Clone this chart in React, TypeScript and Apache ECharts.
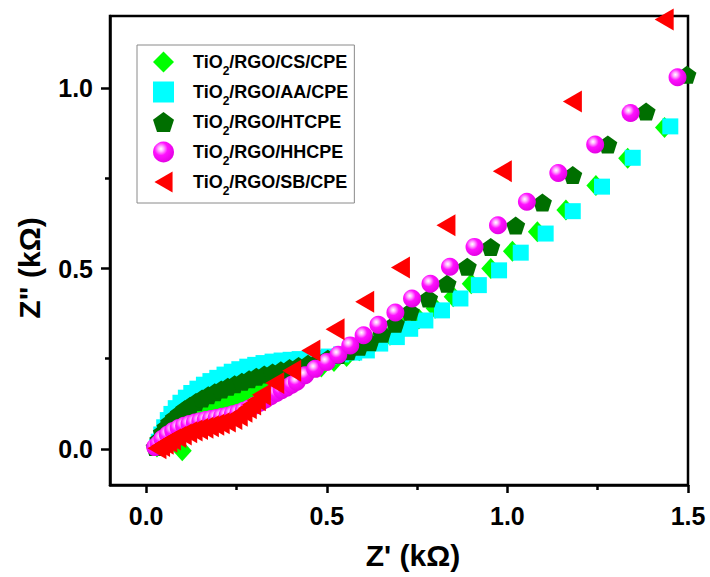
import React, { useEffect, useRef } from "react";
import * as echarts from "echarts";

const seriesNames = [
  "TiO2/RGO/CS/CPE",
  "TiO2/RGO/AA/CPE",
  "TiO2/RGO/HTCPE",
  "TiO2/RGO/HHCPE",
  "TiO2/RGO/SB/CPE",
];

const xMajorTicks = [0, 0.5, 1.0, 1.5];
const xMinorTicks = [0.25, 0.75, 1.25];
const yMajorTicks = [0, 0.5, 1.0];
const yMinorTicks = [0.25, 0.75];

const csData = [
  [0.1, -0.005], [0.03, 0.005], [0.038, 0.02], [0.048, 0.035], [0.06, 0.05], [0.075, 0.063],
  [0.09, 0.074], [0.107, 0.084], [0.125, 0.093], [0.144, 0.101], [0.164, 0.109], [0.185, 0.117],
  [0.207, 0.125], [0.23, 0.133], [0.254, 0.141], [0.279, 0.149], [0.305, 0.158], [0.332, 0.167],
  [0.36, 0.177], [0.39, 0.188], [0.42, 0.2], [0.452, 0.213], [0.485, 0.227], [0.52, 0.242],
  [0.555, 0.256], [0.59, 0.272], [0.63, 0.295], [0.675, 0.315], [0.712, 0.337], [0.755, 0.36],
  [0.8, 0.39], [0.85, 0.422], [0.9, 0.458], [0.954, 0.5], [1.014, 0.548], [1.083, 0.602],
  [1.162, 0.662], [1.245, 0.73], [1.333, 0.806], [1.435, 0.891],
];

const aaData = [
  [0.03, 0.005], [0.035, 0.02], [0.042, 0.04], [0.05, 0.06], [0.06, 0.08], [0.07, 0.097],
  [0.082, 0.113], [0.095, 0.128], [0.11, 0.142], [0.125, 0.155], [0.142, 0.167], [0.16, 0.178],
  [0.178, 0.188], [0.197, 0.197], [0.217, 0.206], [0.237, 0.214], [0.258, 0.221], [0.28, 0.228],
  [0.302, 0.233], [0.325, 0.238], [0.35, 0.242], [0.375, 0.245], [0.4, 0.247], [0.425, 0.249],
  [0.45, 0.25], [0.477, 0.252], [0.505, 0.256], [0.54, 0.262], [0.576, 0.267], [0.611, 0.273],
  [0.648, 0.292], [0.694, 0.31], [0.731, 0.333], [0.773, 0.356], [0.819, 0.384], [0.87, 0.417],
  [0.921, 0.454], [0.977, 0.495], [1.037, 0.544], [1.106, 0.597], [1.181, 0.659], [1.262, 0.727],
  [1.347, 0.807], [1.451, 0.894],
];

const htData = [
  [0.025, 0.005], [0.035, 0.025], [0.045, 0.045], [0.055, 0.06], [0.065, 0.073], [0.078, 0.086],
  [0.092, 0.098], [0.107, 0.11], [0.122, 0.12], [0.138, 0.13], [0.155, 0.14], [0.172, 0.149],
  [0.19, 0.157], [0.208, 0.165], [0.226, 0.172], [0.245, 0.179], [0.265, 0.186], [0.285, 0.193],
  [0.305, 0.2], [0.327, 0.206], [0.35, 0.212], [0.373, 0.218], [0.397, 0.224], [0.422, 0.23],
  [0.448, 0.236], [0.475, 0.242], [0.503, 0.25], [0.532, 0.26], [0.56, 0.271], [0.59, 0.283],
  [0.62, 0.296], [0.653, 0.319], [0.69, 0.347], [0.731, 0.38], [0.782, 0.417], [0.833, 0.458],
  [0.889, 0.505], [0.954, 0.56], [1.023, 0.619], [1.097, 0.683], [1.181, 0.759], [1.278, 0.844],
  [1.384, 0.935], [1.497, 1.037],
];

const hhData = [
  [0.025, 0.005], [0.035, 0.015], [0.045, 0.028], [0.06, 0.04], [0.075, 0.05], [0.09, 0.058],
  [0.105, 0.064], [0.12, 0.069], [0.135, 0.073], [0.15, 0.077], [0.165, 0.08], [0.18, 0.083],
  [0.195, 0.086], [0.21, 0.089], [0.225, 0.092], [0.24, 0.096], [0.255, 0.1], [0.27, 0.106],
  [0.285, 0.112], [0.3, 0.12], [0.315, 0.128], [0.33, 0.137], [0.345, 0.146], [0.361, 0.155],
  [0.375, 0.163], [0.389, 0.17], [0.403, 0.178], [0.417, 0.186], [0.44, 0.204], [0.468, 0.222],
  [0.5, 0.241], [0.532, 0.261], [0.565, 0.287], [0.602, 0.315], [0.643, 0.344], [0.69, 0.378],
  [0.736, 0.417], [0.787, 0.458], [0.841, 0.505], [0.909, 0.56], [0.974, 0.62], [1.054, 0.685],
  [1.141, 0.765], [1.243, 0.844], [1.341, 0.931], [1.471, 1.03],
];

const sbData = [
  [0.03, 0.002], [0.04, 0.008], [0.05, 0.014], [0.06, 0.02], [0.07, 0.026], [0.085, 0.033],
  [0.1, 0.04], [0.115, 0.046], [0.13, 0.051], [0.145, 0.055], [0.16, 0.059], [0.175, 0.063],
  [0.19, 0.067], [0.205, 0.071], [0.222, 0.076], [0.24, 0.083], [0.255, 0.092], [0.268, 0.103],
  [0.28, 0.113], [0.292, 0.123], [0.305, 0.135], [0.319, 0.15], [0.356, 0.183], [0.403, 0.217],
  [0.456, 0.273], [0.523, 0.332], [0.605, 0.408], [0.704, 0.503], [0.83, 0.62], [0.986, 0.77],
  [1.18, 0.963], [1.434, 1.19],
];

const FONT = "'Liberation Sans', Arial, Helvetica, sans-serif";

const sphere = {
  type: "radial",
  x: 0.38,
  y: 0.35,
  r: 0.7,
  colorStops: [
    { offset: 0, color: "#ffffff" },
    { offset: 0.18, color: "#ffb0ff" },
    { offset: 0.45, color: "#ff10ff" },
    { offset: 1, color: "#e000e0" },
  ],
};

const pentagon =
  "path://M0,-1 L0.951,-0.309 L0.588,0.809 L-0.588,0.809 L-0.951,-0.309 Z";
const leftTriangle = "path://M0,11 L19,0 L19,22 Z";

export default function App() {
  const ref = useRef<HTMLDivElement>(null);
  useEffect(() => {
    const chart = echarts.init(ref.current!, null, { renderer: "svg" });
    const axisCommon = {
      type: "value",
      splitLine: { show: false },
    };
    chart.setOption({
      animation: false,
      backgroundColor: "#ffffff",
      grid: {
        left: 110,
        right: 22,
        top: 16,
        bottom: 92,
        show: true,
        borderColor: "#000",
        borderWidth: 2.5,
        backgroundColor: "transparent",
      },
      legend: {
        orient: "vertical",
        left: 137,
        top: 45,
        padding: [2, 6, 6, 16],
        itemGap: 0,
        itemWidth: 21,
        itemHeight: 21,
        borderColor: "#8a8a8a",
        borderWidth: 1,
        data: seriesNames.map((n, i) =>
          i === 4 ? { name: n, icon: leftTriangle } : { name: n }
        ),
        formatter: (name: string) => {
          const rest = name.replace("TiO2", "");
          return "{b|TiO}{s|2}{b|" + rest + "}";
        },
        textStyle: {
          color: "#000",
          fontFamily: FONT,
          fontWeight: "bold",
          fontSize: 18,
          padding: [0, 0, 0, 14],
          rich: {
            b: {
              fontFamily: FONT,
              fontWeight: "bold",
              fontSize: 18,
              lineHeight: 30,
              color: "#000",
            },
            s: {
              fontFamily: FONT,
              fontWeight: "bold",
              fontSize: 12,
              lineHeight: 12,
              padding: [18, 0, 0, 0],
              color: "#000",
            },
          },
        },
      },
      xAxis: [
        {
          ...axisCommon,
          min: -0.1,
          max: 1.5,
          position: "bottom",
          axisLine: { show: true, onZero: false, lineStyle: { color: "#000", width: 2.5 } },
          axisTick: {
            show: true,
            inside: false,
            length: 8,
            customValues: xMajorTicks,
            lineStyle: { color: "#000", width: 2.5 },
          },
          axisLabel: {
            show: true,
            customValues: xMajorTicks,
            margin: 18,
            formatter: (v: number) => v.toFixed(1),
            color: "#000",
            fontFamily: FONT,
            fontWeight: "bold",
            fontSize: 25,
          },
        },
        {
          ...axisCommon,
          min: -0.1,
          max: 1.5,
          position: "bottom",
          axisLine: { show: false, onZero: false },
          axisTick: {
            show: true,
            inside: false,
            length: 5,
            customValues: xMinorTicks,
            lineStyle: { color: "#000", width: 2.5 },
          },
          axisLabel: { show: false },
        },
      ],
      yAxis: [
        {
          ...axisCommon,
          min: -0.1,
          max: 1.2,
          position: "left",
          axisLine: { show: true, onZero: false, lineStyle: { color: "#000", width: 2.5 } },
          axisTick: {
            show: true,
            inside: false,
            length: 9,
            customValues: yMajorTicks,
            lineStyle: { color: "#000", width: 2.5 },
          },
          axisLabel: {
            show: true,
            customValues: yMajorTicks,
            margin: 17,
            formatter: (v: number) => v.toFixed(1),
            color: "#000",
            fontFamily: FONT,
            fontWeight: "bold",
            fontSize: 25,
          },
        },
        {
          ...axisCommon,
          min: -0.1,
          max: 1.2,
          position: "left",
          axisLine: { show: false, onZero: false },
          axisTick: {
            show: true,
            inside: false,
            length: 5,
            customValues: yMinorTicks,
            lineStyle: { color: "#000", width: 2.5 },
          },
          axisLabel: { show: false },
        },
      ],
      graphic: [
        {
          type: "text",
          x: 413,
          y: 555,
          style: {
            text: "Z' (kΩ)",
            font: "bold 30px " + FONT,
            fill: "#000",
            align: "center",
            verticalAlign: "middle",
          },
        },
        {
          type: "text",
          x: 29,
          y: 268,
          rotation: Math.PI / 2,
          style: {
            text: 'Z" (kΩ)',
            font: "bold 30px " + FONT,
            fill: "#000",
            align: "center",
            verticalAlign: "middle",
          },
        },
      ],
      series: [
        {
          name: seriesNames[0],
          type: "scatter",
          data: csData,
          symbol: "diamond",
          symbolSize: [19, 21],
          itemStyle: { color: "#00ff00", opacity: 1 },
        },
        {
          name: seriesNames[1],
          type: "scatter",
          data: aaData,
          symbol: "rect",
          symbolSize: 16,
          itemStyle: { color: "#00ffff", opacity: 1 },
        },
        {
          name: seriesNames[2],
          type: "scatter",
          data: htData,
          symbol: pentagon,
          symbolSize: [19, 18],
          itemStyle: { color: "#006f00", opacity: 1 },
        },
        {
          name: seriesNames[3],
          type: "scatter",
          data: hhData,
          symbol: "circle",
          symbolSize: 18,
          itemStyle: { color: sphere, opacity: 1 },
        },
        {
          name: seriesNames[4],
          type: "scatter",
          data: sbData,
          symbol: "triangle",
          symbolSize: [22, 19],
          symbolRotate: 90,
          itemStyle: { color: "#ff0000", opacity: 1 },
        },
      ],
    });
    return () => chart.dispose();
  }, []);
  return (
    <div
      ref={ref}
      style={{ position: "fixed", left: 0, top: 0, width: 710, height: 577, background: "#fff" }}
    />
  );
}
